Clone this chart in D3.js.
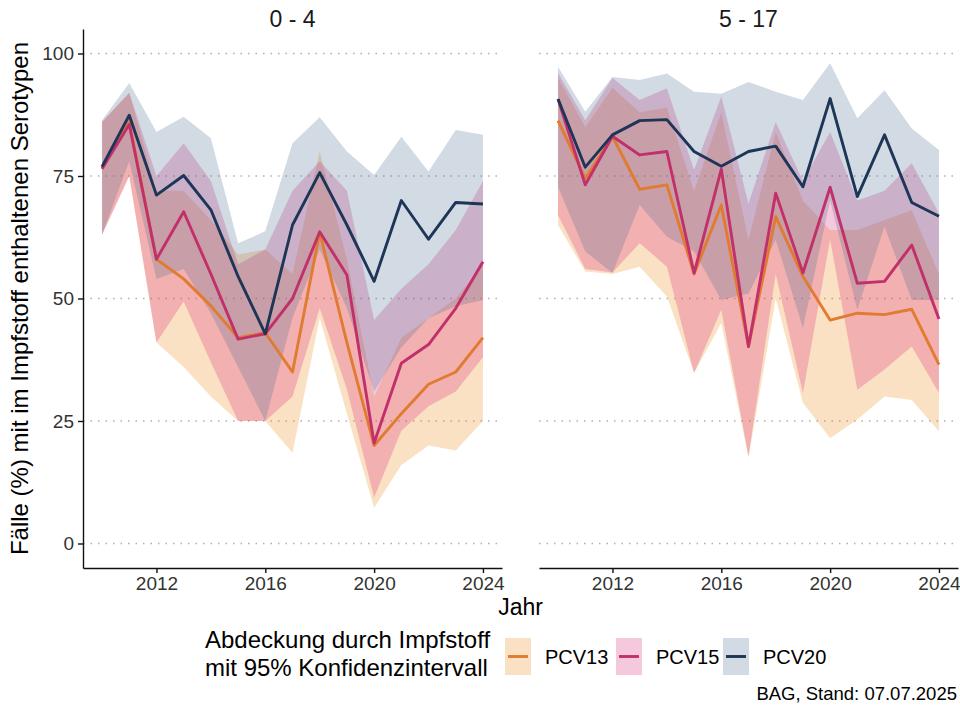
<!DOCTYPE html>
<html>
<head>
<meta charset="utf-8">
<script src="https://cdn.jsdelivr.net/npm/d3@7"></script>
<style>
  body { margin: 0; background: #fff; }
  svg { font-family: "Liberation Sans", Arial, sans-serif; }
</style>
</head>
<body>
<div id="chart"></div>
<script>
// data
const years = [2010, 2011, 2012, 2013, 2014, 2015, 2016, 2017, 2018, 2019, 2020, 2021, 2022, 2023, 2024];
const ageGroups = ["0 - 4", "5 - 17"];
const vaccines = ["PCV13", "PCV15", "PCV20"];
const xTicks = [2012, 2016, 2020, 2024];
const yTicks = [0, 25, 50, 75, 100];

// 0 - 4
const pcv13_04    = [76.5, 86, 58, 54, 48.5, 42, 43, 35, 63.5, 41, 20, 26.5, 32.5, 35, 42];
const pcv13_04_lo = [63, 75, 41, 36, 30, 25, 25, 18.5, 46, 26.5, 7.3, 16, 20, 19, 25];
const pcv13_04_hi = [86, 92, 72, 72, 66, 59, 60, 55, 80, 58, 30, 42, 46, 50, 57];
const pcv15_04    = [76.5, 85.5, 58, 67.7, 55, 41.7, 42.8, 50, 63.6, 54.8, 20.5, 36.8, 40.6, 48, 57.5];
const pcv15_04_lo = [63, 75, 41, 49.4, 37, 25, 25, 30, 48, 31.5, 9.4, 23, 28, 31, 38];
const pcv15_04_hi = [86, 92, 75, 81.7, 74, 57, 60, 72, 78, 72, 45.6, 52, 57, 64, 74];
const pcv20_04    = [76.9, 87.4, 71.1, 75.1, 68.1, 54.5, 42.8, 65, 75.7, 65, 53.5, 70, 62.1, 69.6, 69.3];
const pcv20_04_lo = [63, 78, 54, 56, 47, 36, 25, 46, 60, 48, 31, 40, 46, 48.4, 49.7];
const pcv20_04_hi = [86.4, 94, 84, 87.1, 82.7, 61.3, 63.7, 81.7, 87, 80, 75.2, 83, 75.9, 84.4, 83.4];

// 5 - 17
const pcv13_517    = [86.3, 74.5, 83.1, 72.3, 73.2, 55, 69.1, 40.2, 66.7, 54.5, 45.6, 47, 46.7, 47.8, 36.5];
const pcv13_517_lo = [65, 55.5, 55, 56.5, 50.4, 34.8, 45, 17.5, 50, 28.7, 21.5, 25.3, 30, 29.3, 22.9];
const pcv13_517_hi = [95, 85, 93, 88, 89, 72, 88, 62, 84, 70, 64, 64, 66, 68, 55];
const pcv15_517    = [90.7, 73.2, 83.1, 79.3, 80, 55.2, 76.4, 40.2, 71.5, 55.2, 72.7, 53.1, 53.5, 60.9, 45.8];
const pcv15_517_lo = [67, 56, 55.3, 61.3, 56.5, 34.8, 47.7, 17.8, 55, 30.7, 62, 31.4, 35.5, 40.2, 30.7];
const pcv15_517_hi = [96, 86.4, 95, 90.5, 92.9, 76.2, 91.2, 69.4, 86, 74, 84, 70, 72, 77.6, 67.4];
const pcv20_517    = [90.7, 76.8, 83.4, 86.3, 86.5, 80, 77, 80, 81.1, 72.8, 90.8, 70.8, 83.4, 69.6, 66.8];
const pcv20_517_lo = [72.8, 59.6, 55.2, 69.1, 62.6, 59.6, 49.7, 51, 62, 44, 70, 47.7, 64.7, 49.7, 49.7];
const pcv20_517_hi = [97.3, 88.1, 95.2, 94.6, 95.9, 92.2, 91.8, 94.2, 92.2, 90.5, 98, 86.8, 92.5, 84.7, 80.3];

const panelData = [
  [[pcv13_04, pcv13_04_lo, pcv13_04_hi], [pcv15_04, pcv15_04_lo, pcv15_04_hi], [pcv20_04, pcv20_04_lo, pcv20_04_hi]],
  [[pcv13_517, pcv13_517_lo, pcv13_517_hi], [pcv15_517, pcv15_517_lo, pcv15_517_hi], [pcv20_517, pcv20_517_lo, pcv20_517_hi]]
];

const lineColor = {PCV13: "#e07b30", PCV15: "#c2306b", PCV20: "#1d3557"};
const bandColor = {PCV13: "#ef870f", PCV15: "#d72377", PCV20: "#4b6b8f"};
const bandAlpha = 0.25;

const width = 960, height = 707;
const plotTop = 29, plotBottom = 568;
const panelRange = [[83, 502], [539, 958]];

const svg = d3.select("#chart").append("svg")
  .attr("width", width)
  .attr("height", height);

const y = d3.scaleLinear().domain([-5, 105]).range([plotBottom, plotTop]);

ageGroups.forEach((group, p) => {
  const x = d3.scaleLinear().domain([2009.3, 2024.7]).range(panelRange[p]);
  const g = svg.append("g");

  // dotted grid
  g.selectAll(".grid")
    .data(yTicks)
    .enter().append("line")
    .attr("x1", panelRange[p][0]).attr("x2", panelRange[p][1])
    .attr("y1", d => y(d)).attr("y2", d => y(d))
    .attr("stroke", "#b0b0b0")
    .attr("stroke-width", 1.3)
    .attr("stroke-dasharray", "1.5,6");

  const rows = vaccines.map((v, k) => years.map((yr, i) => ({
    year: yr,
    mid: panelData[p][k][0][i],
    lo: panelData[p][k][1][i],
    hi: panelData[p][k][2][i]
  })));

  const area = d3.area()
    .x(d => x(d.year))
    .y0(d => y(d.lo))
    .y1(d => y(d.hi));

  const line = d3.line()
    .x(d => x(d.year))
    .y(d => y(d.mid));

  vaccines.forEach((v, k) => {
    g.append("path")
      .attr("d", area(rows[k]))
      .attr("fill", bandColor[v])
      .attr("fill-opacity", bandAlpha);
  });

  vaccines.forEach((v, k) => {
    g.append("path")
      .attr("d", line(rows[k]))
      .attr("fill", "none")
      .attr("stroke", lineColor[v])
      .attr("stroke-width", 2.9)
      .attr("stroke-linejoin", "round");
  });

  // x axis
  const xAxis = g.append("g")
    .attr("transform", `translate(0,${plotBottom})`)
    .call(d3.axisBottom(x).tickValues(xTicks).tickFormat(d3.format("d")).tickSize(5).tickSizeOuter(0).tickPadding(4));
  xAxis.select(".domain").attr("stroke", "#111").attr("stroke-width", 1.4);
  xAxis.selectAll(".tick line").attr("stroke", "#111").attr("stroke-width", 1.4);
  xAxis.selectAll(".tick text").attr("font-size", 19).attr("fill", "#333").attr("font-family", null);

  if (p === 0) {
    const yAxis = g.append("g")
      .attr("transform", `translate(${panelRange[p][0]},0)`)
      .call(d3.axisLeft(y).tickValues(yTicks).tickSize(5).tickSizeOuter(0).tickPadding(4));
    yAxis.select(".domain").attr("stroke", "#111").attr("stroke-width", 1.4);
    yAxis.selectAll(".tick line").attr("stroke", "#111").attr("stroke-width", 1.4);
    yAxis.selectAll(".tick text").attr("font-size", 19).attr("fill", "#333").attr("font-family", null);
  }

  // strip label
  svg.append("text")
    .attr("x", (panelRange[p][0] + panelRange[p][1]) / 2)
    .attr("y", 27)
    .attr("text-anchor", "middle")
    .attr("font-size", 23)
    .attr("fill", "#1a1a1a")
    .text(group);
});

// axis titles
svg.append("text")
  .attr("x", (panelRange[0][0] + panelRange[1][1]) / 2)
  .attr("y", 615)
  .attr("text-anchor", "middle")
  .attr("font-size", 23)
  .text("Jahr");

svg.append("text")
  .attr("transform", `translate(28,${(y(-5) + y(105)) / 2}) rotate(-90)`)
  .attr("text-anchor", "middle")
  .attr("font-size", 24)
  .text("Fälle (%) mit im Impfstoff enthaltenen Serotypen");

// legend
const legend = svg.append("g");
legend.append("text")
  .attr("x", 205).attr("y", 648)
  .attr("font-size", 24)
  .text("Abdeckung durch Impfstoff");
legend.append("text")
  .attr("x", 205).attr("y", 676)
  .attr("font-size", 24)
  .text("mit 95% Konfidenzintervall");

const keyX = [505, 616, 723];
vaccines.forEach((v, k) => {
  const kg = legend.append("g").attr("transform", `translate(${keyX[k]},638)`);
  kg.append("rect")
    .attr("width", 26).attr("height", 37)
    .attr("fill", bandColor[v]).attr("fill-opacity", bandAlpha);
  kg.append("line")
    .attr("x1", 3).attr("x2", 23).attr("y1", 18.5).attr("y2", 18.5)
    .attr("stroke", lineColor[v]).attr("stroke-width", 2.9);
  kg.append("text")
    .attr("x", 40).attr("y", 26)
    .attr("font-size", 20)
    .text(v);
});

svg.append("text")
  .attr("x", 957).attr("y", 700)
  .attr("text-anchor", "end")
  .attr("font-size", 18.5)
  .text("BAG, Stand: 07.07.2025");
</script>
</body>
</html>
